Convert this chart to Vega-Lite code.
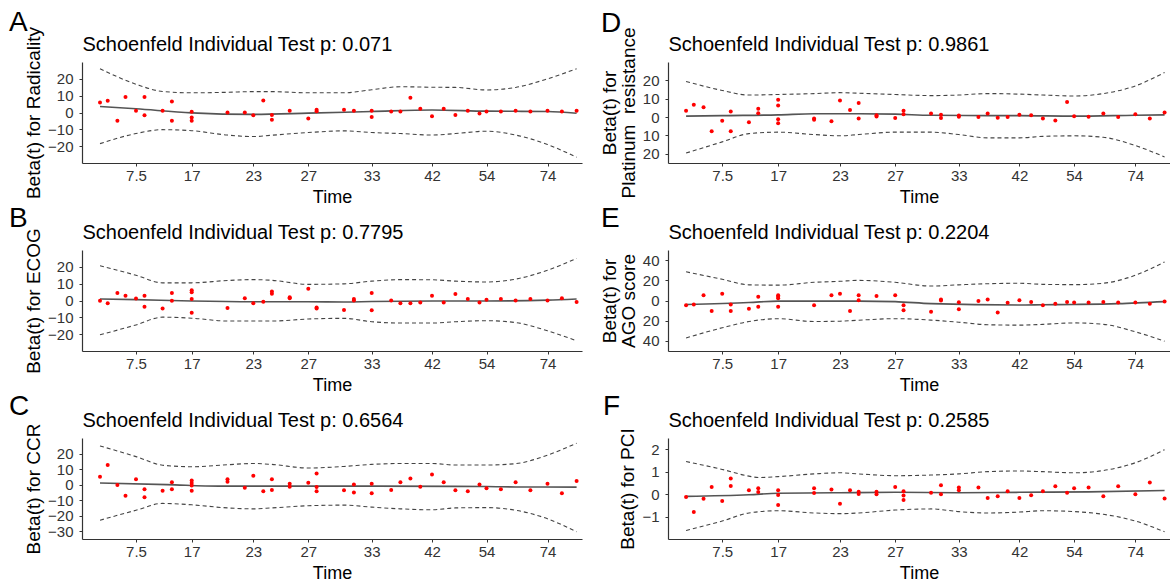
{
"$schema": "https://vega.github.io/schema/vega-lite/v6.json",
"background": "white",
"padding": {"left": 9, "top": 9, "right": 0, "bottom": 0},
"datasets": {
"pts": [
{"p":"A","t":18,"b":6.0},{"p":"A","t":25.7,"b":7.0},{"p":"A","t":35.4,"b":-4.9},{"p":"A","t":43.5,"b":9.2},{"p":"A","t":54,"b":1.1},{"p":"A","t":62.5,"b":9.2},{"p":"A","t":62.5,"b":-1.7},{"p":"A","t":80.6,"b":1.1},{"p":"A","t":89.9,"b":6.6},{"p":"A","t":89.9,"b":-4.9},{"p":"A","t":109.7,"b":0.4},{"p":"A","t":109.7,"b":-3.0},{"p":"A","t":109.7,"b":-4.9},{"p":"A","t":145.5,"b":0},{"p":"A","t":162.8,"b":0},{"p":"A","t":171.3,"b":-1.7},{"p":"A","t":181.3,"b":7.2},{"p":"A","t":189.9,"b":-1.5},{"p":"A","t":189.9,"b":-4.3},{"p":"A","t":207.7,"b":1.1},{"p":"A","t":226.3,"b":-3.6},{"p":"A","t":234.6,"b":1.7},{"p":"A","t":234.6,"b":0.8},{"p":"A","t":262,"b":1.7},{"p":"A","t":271.9,"b":1.1},{"p":"A","t":289.7,"b":1.1},{"p":"A","t":289.7,"b":-2.6},{"p":"A","t":309.2,"b":0.6},{"p":"A","t":318.4,"b":0.6},{"p":"A","t":328.4,"b":8.7},{"p":"A","t":338.3,"b":2.3},{"p":"A","t":350,"b":-2.3},{"p":"A","t":361.7,"b":2.3},{"p":"A","t":373.4,"b":-1.5},{"p":"A","t":385.8,"b":1.1},{"p":"A","t":397.5,"b":-0.6},{"p":"A","t":404.5,"b":0.6},{"p":"A","t":418.9,"b":0.6},{"p":"A","t":433.6,"b":1.1},{"p":"A","t":448.4,"b":0.6},{"p":"A","t":465.5,"b":1.1},{"p":"A","t":479.9,"b":0.6},{"p":"A","t":494.6,"b":1.1},
{"p":"B","t":18,"b":-0.2},{"p":"B","t":25.7,"b":-1.7},{"p":"B","t":35.4,"b":4.4},{"p":"B","t":43.5,"b":2.8},{"p":"B","t":54,"b":1.2},{"p":"B","t":62.5,"b":2.8},{"p":"B","t":62.5,"b":-3.7},{"p":"B","t":80.6,"b":-4.7},{"p":"B","t":89.9,"b":4.4},{"p":"B","t":89.9,"b":-0.2},{"p":"B","t":109.7,"b":6.1},{"p":"B","t":109.7,"b":4.9},{"p":"B","t":109.7,"b":0.9},{"p":"B","t":109.7,"b":-7.3},{"p":"B","t":145.5,"b":-4.4},{"p":"B","t":162.8,"b":1.4},{"p":"B","t":171.3,"b":-1.6},{"p":"B","t":181.3,"b":-0.7},{"p":"B","t":189.9,"b":5.4},{"p":"B","t":189.9,"b":4.0},{"p":"B","t":207.7,"b":1.9},{"p":"B","t":207.7,"b":1.4},{"p":"B","t":226.3,"b":7.0},{"p":"B","t":234.6,"b":-4.2},{"p":"B","t":234.6,"b":-4.7},{"p":"B","t":262,"b":-5.6},{"p":"B","t":271.9,"b":0.9},{"p":"B","t":271.9,"b":0},{"p":"B","t":289.7,"b":4.4},{"p":"B","t":289.7,"b":-5.8},{"p":"B","t":309.2,"b":0},{"p":"B","t":318.4,"b":-1.7},{"p":"B","t":328.4,"b":-1.6},{"p":"B","t":338.3,"b":-1.2},{"p":"B","t":350,"b":2.8},{"p":"B","t":361.7,"b":-1.2},{"p":"B","t":373.4,"b":3.8},{"p":"B","t":385.8,"b":0.9},{"p":"B","t":397.5,"b":-1.2},{"p":"B","t":404.5,"b":0.5},{"p":"B","t":418.9,"b":0.9},{"p":"B","t":433.6,"b":0},{"p":"B","t":448.4,"b":0.9},{"p":"B","t":465.5,"b":0},{"p":"B","t":479.9,"b":1.4},{"p":"B","t":494.6,"b":-0.9},
{"p":"C","t":18,"b":5.1},{"p":"C","t":25.7,"b":12.6},{"p":"C","t":35.4,"b":-0.2},{"p":"C","t":43.5,"b":-7.1},{"p":"C","t":54,"b":3.4},{"p":"C","t":62.5,"b":-3.0},{"p":"C","t":62.5,"b":-8.1},{"p":"C","t":80.6,"b":-4.0},{"p":"C","t":89.9,"b":1.6},{"p":"C","t":89.9,"b":-3.0},{"p":"C","t":109.7,"b":2.6},{"p":"C","t":109.7,"b":1.0},{"p":"C","t":109.7,"b":-0.6},{"p":"C","t":109.7,"b":-4.0},{"p":"C","t":145.5,"b":3.4},{"p":"C","t":145.5,"b":1.8},{"p":"C","t":162.8,"b":-2.0},{"p":"C","t":171.3,"b":5.7},{"p":"C","t":181.3,"b":-4.3},{"p":"C","t":189.9,"b":3.4},{"p":"C","t":189.9,"b":-3.4},{"p":"C","t":207.7,"b":0.6},{"p":"C","t":207.7,"b":-1.4},{"p":"C","t":226.3,"b":1.2},{"p":"C","t":234.6,"b":7.1},{"p":"C","t":234.6,"b":-1.6},{"p":"C","t":234.6,"b":-4.3},{"p":"C","t":262,"b":-3.6},{"p":"C","t":271.9,"b":0},{"p":"C","t":271.9,"b":-5.1},{"p":"C","t":289.7,"b":0.6},{"p":"C","t":289.7,"b":-5.5},{"p":"C","t":309.2,"b":-3.4},{"p":"C","t":318.4,"b":1.6},{"p":"C","t":328.4,"b":4.0},{"p":"C","t":338.3,"b":-1.4},{"p":"C","t":350,"b":6.5},{"p":"C","t":361.7,"b":1.6},{"p":"C","t":373.4,"b":-3.6},{"p":"C","t":385.8,"b":-4.3},{"p":"C","t":397.5,"b":0},{"p":"C","t":404.5,"b":-2.4},{"p":"C","t":418.9,"b":-3.0},{"p":"C","t":433.6,"b":1.6},{"p":"C","t":448.4,"b":-3.6},{"p":"C","t":465.5,"b":0.6},{"p":"C","t":479.9,"b":-5.5},{"p":"C","t":494.6,"b":2.4},
{"p":"D","t":18,"b":3.5},{"p":"D","t":25.7,"b":6.7},{"p":"D","t":35.4,"b":5.3},{"p":"D","t":43.5,"b":-7.7},{"p":"D","t":54,"b":-2.0},{"p":"D","t":62.5,"b":3.0},{"p":"D","t":62.5,"b":-7.7},{"p":"D","t":80.6,"b":-2.8},{"p":"D","t":89.9,"b":4.6},{"p":"D","t":89.9,"b":2.1},{"p":"D","t":109.7,"b":9.5},{"p":"D","t":109.7,"b":6.3},{"p":"D","t":109.7,"b":-1.2},{"p":"D","t":109.7,"b":-3.3},{"p":"D","t":145.5,"b":-0.7},{"p":"D","t":145.5,"b":-1.5},{"p":"D","t":162.8,"b":-2.3},{"p":"D","t":171.3,"b":9.0},{"p":"D","t":181.3,"b":3.8},{"p":"D","t":189.9,"b":7.7},{"p":"D","t":189.9,"b":-0.8},{"p":"D","t":207.7,"b":1.0},{"p":"D","t":207.7,"b":0.3},{"p":"D","t":226.3,"b":-0.5},{"p":"D","t":234.6,"b":3.5},{"p":"D","t":234.6,"b":1.6},{"p":"D","t":262,"b":2.0},{"p":"D","t":271.9,"b":1.3},{"p":"D","t":271.9,"b":-0.5},{"p":"D","t":289.7,"b":0.8},{"p":"D","t":289.7,"b":0.2},{"p":"D","t":309.2,"b":0},{"p":"D","t":318.4,"b":2.0},{"p":"D","t":328.4,"b":-0.3},{"p":"D","t":338.3,"b":0},{"p":"D","t":350,"b":1.3},{"p":"D","t":361.7,"b":1.0},{"p":"D","t":373.4,"b":-0.8},{"p":"D","t":385.8,"b":-1.8},{"p":"D","t":397.5,"b":8.2},{"p":"D","t":404.5,"b":0.5},{"p":"D","t":418.9,"b":0.2},{"p":"D","t":433.6,"b":2.0},{"p":"D","t":448.4,"b":0},{"p":"D","t":465.5,"b":1.6},{"p":"D","t":479.9,"b":-0.8},{"p":"D","t":494.6,"b":2.5},
{"p":"E","t":18,"b":-4.8},{"p":"E","t":25.7,"b":-3.9},{"p":"E","t":35.4,"b":5.1},{"p":"E","t":43.5,"b":-10.4},{"p":"E","t":54,"b":6.7},{"p":"E","t":62.5,"b":-3.9},{"p":"E","t":62.5,"b":-10.4},{"p":"E","t":80.6,"b":-8.1},{"p":"E","t":89.9,"b":3.7},{"p":"E","t":89.9,"b":-6.2},{"p":"E","t":109.7,"b":5.1},{"p":"E","t":109.7,"b":3.7},{"p":"E","t":109.7,"b":2.2},{"p":"E","t":109.7,"b":-6.2},{"p":"E","t":145.5,"b":-4.8},{"p":"E","t":162.8,"b":5.3},{"p":"E","t":171.3,"b":6.7},{"p":"E","t":181.3,"b":-10.4},{"p":"E","t":189.9,"b":5.3},{"p":"E","t":189.9,"b":0.3},{"p":"E","t":207.7,"b":4.5},{"p":"E","t":226.3,"b":5.1},{"p":"E","t":234.6,"b":-4.8},{"p":"E","t":234.6,"b":-9.6},{"p":"E","t":262,"b":-11.2},{"p":"E","t":271.9,"b":1.1},{"p":"E","t":271.9,"b":0},{"p":"E","t":289.7,"b":-1.7},{"p":"E","t":289.7,"b":-8.7},{"p":"E","t":309.2,"b":-0.6},{"p":"E","t":318.4,"b":1.1},{"p":"E","t":328.4,"b":-11.8},{"p":"E","t":338.3,"b":-2.2},{"p":"E","t":350,"b":0.3},{"p":"E","t":361.7,"b":-1.4},{"p":"E","t":373.4,"b":-4.8},{"p":"E","t":385.8,"b":-3.1},{"p":"E","t":397.5,"b":-1.4},{"p":"E","t":404.5,"b":-2.0},{"p":"E","t":418.9,"b":-2.0},{"p":"E","t":433.6,"b":-1.4},{"p":"E","t":448.4,"b":-2.0},{"p":"E","t":465.5,"b":-2.0},{"p":"E","t":479.9,"b":-3.1},{"p":"E","t":494.6,"b":-1.1},
{"p":"F","t":18,"b":-0.13},{"p":"F","t":25.7,"b":-0.80},{"p":"F","t":35.4,"b":-0.21},{"p":"F","t":43.5,"b":0.32},{"p":"F","t":54,"b":-0.31},{"p":"F","t":62.5,"b":0.70},{"p":"F","t":62.5,"b":0.36},{"p":"F","t":80.6,"b":0.17},{"p":"F","t":89.9,"b":0.26},{"p":"F","t":89.9,"b":0.09},{"p":"F","t":109.7,"b":0.17},{"p":"F","t":109.7,"b":-0.04},{"p":"F","t":109.7,"b":-0.48},{"p":"F","t":145.5,"b":0.26},{"p":"F","t":145.5,"b":0.05},{"p":"F","t":162.8,"b":0.21},{"p":"F","t":171.3,"b":-0.43},{"p":"F","t":181.3,"b":0.17},{"p":"F","t":189.9,"b":0.10},{"p":"F","t":189.9,"b":0},{"p":"F","t":207.7,"b":0.10},{"p":"F","t":207.7,"b":-0.01},{"p":"F","t":226.3,"b":0.32},{"p":"F","t":234.6,"b":0.13},{"p":"F","t":234.6,"b":-0.06},{"p":"F","t":234.6,"b":-0.26},{"p":"F","t":262,"b":0.06},{"p":"F","t":271.9,"b":0.40},{"p":"F","t":271.9,"b":-0.01},{"p":"F","t":289.7,"b":0.30},{"p":"F","t":289.7,"b":0.17},{"p":"F","t":309.2,"b":0.30},{"p":"F","t":318.4,"b":-0.17},{"p":"F","t":328.4,"b":-0.09},{"p":"F","t":338.3,"b":0.13},{"p":"F","t":350,"b":-0.17},{"p":"F","t":361.7,"b":-0.05},{"p":"F","t":373.4,"b":0.13},{"p":"F","t":385.8,"b":0.35},{"p":"F","t":397.5,"b":0.06},{"p":"F","t":404.5,"b":0.26},{"p":"F","t":418.9,"b":0.30},{"p":"F","t":433.6,"b":-0.09},{"p":"F","t":448.4,"b":0.35},{"p":"F","t":465.5,"b":-0.01},{"p":"F","t":479.9,"b":0.52},{"p":"F","t":494.6,"b":-0.19}
],
"crv": [
{"p":"A","k":"hi","t":18,"v":26.0},{"p":"A","k":"hi","t":54,"v":16.8},{"p":"A","k":"hi","t":80.6,"v":12.5},{"p":"A","k":"hi","t":109.7,"v":11.7},{"p":"A","k":"hi","t":145.5,"v":12.0},{"p":"A","k":"hi","t":171.3,"v":12.4},{"p":"A","k":"hi","t":189.9,"v":12.4},{"p":"A","k":"hi","t":226.3,"v":11.7},{"p":"A","k":"hi","t":262,"v":11.7},{"p":"A","k":"hi","t":289.7,"v":13.5},{"p":"A","k":"hi","t":318.4,"v":15.3},{"p":"A","k":"hi","t":350,"v":15.0},{"p":"A","k":"hi","t":373.4,"v":14.9},{"p":"A","k":"hi","t":404.5,"v":13.4},{"p":"A","k":"hi","t":433.6,"v":14.9},{"p":"A","k":"hi","t":465.5,"v":20.0},{"p":"A","k":"hi","t":494.6,"v":26.0},
{"p":"A","k":"lo","t":18,"v":-18.5},{"p":"A","k":"lo","t":54,"v":-12.5},{"p":"A","k":"lo","t":80.6,"v":-10.2},{"p":"A","k":"lo","t":109.7,"v":-10.8},{"p":"A","k":"lo","t":145.5,"v":-13.4},{"p":"A","k":"lo","t":171.3,"v":-14.3},{"p":"A","k":"lo","t":189.9,"v":-13.5},{"p":"A","k":"lo","t":226.3,"v":-11.9},{"p":"A","k":"lo","t":262,"v":-10.9},{"p":"A","k":"lo","t":289.7,"v":-11.9},{"p":"A","k":"lo","t":318.4,"v":-12.5},{"p":"A","k":"lo","t":350,"v":-13.4},{"p":"A","k":"lo","t":373.4,"v":-12.5},{"p":"A","k":"lo","t":404.5,"v":-11.1},{"p":"A","k":"lo","t":433.6,"v":-13.4},{"p":"A","k":"lo","t":465.5,"v":-19.0},{"p":"A","k":"lo","t":494.6,"v":-26.6},
{"p":"A","k":"fit","t":18,"v":3.6},{"p":"A","k":"fit","t":54,"v":2.2},{"p":"A","k":"fit","t":109.7,"v":-0.2},{"p":"A","k":"fit","t":171.3,"v":-1.1},{"p":"A","k":"fit","t":226.3,"v":-0.4},{"p":"A","k":"fit","t":289.7,"v":0.6},{"p":"A","k":"fit","t":350,"v":1.5},{"p":"A","k":"fit","t":404.5,"v":0.8},{"p":"A","k":"fit","t":465.5,"v":0.6},{"p":"A","k":"fit","t":494.6,"v":-0.4},
{"p":"B","k":"hi","t":18,"v":20.6},{"p":"B","k":"hi","t":54,"v":15.0},{"p":"B","k":"hi","t":80.6,"v":10.5},{"p":"B","k":"hi","t":109.7,"v":10.5},{"p":"B","k":"hi","t":145.5,"v":11.9},{"p":"B","k":"hi","t":171.3,"v":12.4},{"p":"B","k":"hi","t":189.9,"v":12.0},{"p":"B","k":"hi","t":226.3,"v":9.6},{"p":"B","k":"hi","t":262,"v":9.9},{"p":"B","k":"hi","t":289.7,"v":11.5},{"p":"B","k":"hi","t":318.4,"v":12.4},{"p":"B","k":"hi","t":350,"v":12.3},{"p":"B","k":"hi","t":373.4,"v":11.5},{"p":"B","k":"hi","t":404.5,"v":11.0},{"p":"B","k":"hi","t":433.6,"v":12.7},{"p":"B","k":"hi","t":465.5,"v":18.0},{"p":"B","k":"hi","t":494.6,"v":25.0},
{"p":"B","k":"lo","t":18,"v":-20.4},{"p":"B","k":"lo","t":54,"v":-14.5},{"p":"B","k":"lo","t":80.6,"v":-9.9},{"p":"B","k":"lo","t":109.7,"v":-10.5},{"p":"B","k":"lo","t":145.5,"v":-12.2},{"p":"B","k":"lo","t":171.3,"v":-12.2},{"p":"B","k":"lo","t":189.9,"v":-12.2},{"p":"B","k":"lo","t":226.3,"v":-11.0},{"p":"B","k":"lo","t":262,"v":-10.6},{"p":"B","k":"lo","t":289.7,"v":-12.6},{"p":"B","k":"lo","t":318.4,"v":-13.4},{"p":"B","k":"lo","t":350,"v":-13.4},{"p":"B","k":"lo","t":373.4,"v":-12.6},{"p":"B","k":"lo","t":404.5,"v":-12.0},{"p":"B","k":"lo","t":433.6,"v":-13.1},{"p":"B","k":"lo","t":465.5,"v":-18.0},{"p":"B","k":"lo","t":494.6,"v":-23.9},
{"p":"B","k":"fit","t":18,"v":0.9},{"p":"B","k":"fit","t":54,"v":0.5},{"p":"B","k":"fit","t":109.7,"v":-0.3},{"p":"B","k":"fit","t":171.3,"v":-0.7},{"p":"B","k":"fit","t":226.3,"v":-0.7},{"p":"B","k":"fit","t":262,"v":-0.9},{"p":"B","k":"fit","t":289.7,"v":-0.6},{"p":"B","k":"fit","t":350,"v":-0.3},{"p":"B","k":"fit","t":404.5,"v":-0.3},{"p":"B","k":"fit","t":465.5,"v":0.2},{"p":"B","k":"fit","t":494.6,"v":0.9},
{"p":"C","k":"hi","t":18,"v":24.9},{"p":"C","k":"hi","t":54,"v":18.0},{"p":"C","k":"hi","t":80.6,"v":12.5},{"p":"C","k":"hi","t":109.7,"v":11.5},{"p":"C","k":"hi","t":145.5,"v":12.8},{"p":"C","k":"hi","t":171.3,"v":13.6},{"p":"C","k":"hi","t":189.9,"v":13.0},{"p":"C","k":"hi","t":226.3,"v":10.7},{"p":"C","k":"hi","t":262,"v":11.7},{"p":"C","k":"hi","t":289.7,"v":13.0},{"p":"C","k":"hi","t":318.4,"v":13.6},{"p":"C","k":"hi","t":350,"v":13.6},{"p":"C","k":"hi","t":373.4,"v":12.6},{"p":"C","k":"hi","t":404.5,"v":12.6},{"p":"C","k":"hi","t":433.6,"v":13.5},{"p":"C","k":"hi","t":465.5,"v":19.0},{"p":"C","k":"hi","t":494.6,"v":26.7},
{"p":"C","k":"lo","t":18,"v":-22.9},{"p":"C","k":"lo","t":54,"v":-16.5},{"p":"C","k":"lo","t":80.6,"v":-12.1},{"p":"C","k":"lo","t":109.7,"v":-13.0},{"p":"C","k":"lo","t":145.5,"v":-15.0},{"p":"C","k":"lo","t":171.3,"v":-15.6},{"p":"C","k":"lo","t":189.9,"v":-15.0},{"p":"C","k":"lo","t":226.3,"v":-13.6},{"p":"C","k":"lo","t":262,"v":-13.2},{"p":"C","k":"lo","t":289.7,"v":-14.5},{"p":"C","k":"lo","t":318.4,"v":-15.6},{"p":"C","k":"lo","t":350,"v":-16.2},{"p":"C","k":"lo","t":373.4,"v":-15.0},{"p":"C","k":"lo","t":404.5,"v":-14.8},{"p":"C","k":"lo","t":433.6,"v":-16.5},{"p":"C","k":"lo","t":465.5,"v":-22.0},{"p":"C","k":"lo","t":494.6,"v":-30.4},
{"p":"C","k":"fit","t":18,"v":1.0},{"p":"C","k":"fit","t":85,"v":0},{"p":"C","k":"fit","t":137,"v":-1.0},{"p":"C","k":"fit","t":294,"v":-1.0},{"p":"C","k":"fit","t":404.5,"v":-1.2},{"p":"C","k":"fit","t":433.6,"v":-1.5},{"p":"C","k":"fit","t":494.6,"v":-1.6},
{"p":"D","k":"hi","t":18,"v":19.4},{"p":"D","k":"hi","t":54,"v":14.5},{"p":"D","k":"hi","t":80.6,"v":12.0},{"p":"D","k":"hi","t":109.7,"v":12.3},{"p":"D","k":"hi","t":145.5,"v":12.8},{"p":"D","k":"hi","t":171.3,"v":13.3},{"p":"D","k":"hi","t":189.9,"v":13.0},{"p":"D","k":"hi","t":226.3,"v":12.3},{"p":"D","k":"hi","t":262,"v":11.7},{"p":"D","k":"hi","t":289.7,"v":12.0},{"p":"D","k":"hi","t":318.4,"v":12.8},{"p":"D","k":"hi","t":350,"v":12.5},{"p":"D","k":"hi","t":373.4,"v":12.0},{"p":"D","k":"hi","t":404.5,"v":11.5},{"p":"D","k":"hi","t":433.6,"v":12.8},{"p":"D","k":"hi","t":465.5,"v":17.0},{"p":"D","k":"hi","t":494.6,"v":24.3},
{"p":"D","k":"lo","t":18,"v":-19.6},{"p":"D","k":"lo","t":54,"v":-13.5},{"p":"D","k":"lo","t":80.6,"v":-9.0},{"p":"D","k":"lo","t":109.7,"v":-8.2},{"p":"D","k":"lo","t":145.5,"v":-9.5},{"p":"D","k":"lo","t":171.3,"v":-10.2},{"p":"D","k":"lo","t":189.9,"v":-9.5},{"p":"D","k":"lo","t":226.3,"v":-8.2},{"p":"D","k":"lo","t":262,"v":-8.2},{"p":"D","k":"lo","t":289.7,"v":-9.5},{"p":"D","k":"lo","t":318.4,"v":-11.3},{"p":"D","k":"lo","t":350,"v":-11.3},{"p":"D","k":"lo","t":373.4,"v":-10.5},{"p":"D","k":"lo","t":404.5,"v":-10.2},{"p":"D","k":"lo","t":433.6,"v":-11.0},{"p":"D","k":"lo","t":465.5,"v":-15.5},{"p":"D","k":"lo","t":494.6,"v":-21.7},
{"p":"D","k":"fit","t":18,"v":0.5},{"p":"D","k":"fit","t":54,"v":0.8},{"p":"D","k":"fit","t":109.7,"v":1.2},{"p":"D","k":"fit","t":145.5,"v":1.8},{"p":"D","k":"fit","t":189.9,"v":1.8},{"p":"D","k":"fit","t":226.3,"v":1.6},{"p":"D","k":"fit","t":262,"v":1.0},{"p":"D","k":"fit","t":318.4,"v":0.8},{"p":"D","k":"fit","t":350,"v":0.8},{"p":"D","k":"fit","t":404.5,"v":0.5},{"p":"D","k":"fit","t":465.5,"v":1.0},{"p":"D","k":"fit","t":494.6,"v":1.2},
{"p":"E","k":"hi","t":18,"v":28.4},{"p":"E","k":"hi","t":54,"v":21.0},{"p":"E","k":"hi","t":80.6,"v":15.5},{"p":"E","k":"hi","t":109.7,"v":15.2},{"p":"E","k":"hi","t":145.5,"v":18.0},{"p":"E","k":"hi","t":171.3,"v":19.0},{"p":"E","k":"hi","t":189.9,"v":19.9},{"p":"E","k":"hi","t":226.3,"v":18.0},{"p":"E","k":"hi","t":262,"v":14.3},{"p":"E","k":"hi","t":289.7,"v":15.5},{"p":"E","k":"hi","t":318.4,"v":16.6},{"p":"E","k":"hi","t":350,"v":17.1},{"p":"E","k":"hi","t":373.4,"v":16.0},{"p":"E","k":"hi","t":404.5,"v":15.7},{"p":"E","k":"hi","t":433.6,"v":17.1},{"p":"E","k":"hi","t":465.5,"v":25.0},{"p":"E","k":"hi","t":494.6,"v":38.2},
{"p":"E","k":"lo","t":18,"v":-37.1},{"p":"E","k":"lo","t":54,"v":-27.0},{"p":"E","k":"lo","t":80.6,"v":-20.8},{"p":"E","k":"lo","t":109.7,"v":-18.0},{"p":"E","k":"lo","t":145.5,"v":-20.8},{"p":"E","k":"lo","t":171.3,"v":-20.5},{"p":"E","k":"lo","t":189.9,"v":-19.5},{"p":"E","k":"lo","t":226.3,"v":-18.0},{"p":"E","k":"lo","t":262,"v":-19.4},{"p":"E","k":"lo","t":289.7,"v":-21.5},{"p":"E","k":"lo","t":318.4,"v":-24.0},{"p":"E","k":"lo","t":350,"v":-24.4},{"p":"E","k":"lo","t":373.4,"v":-23.6},{"p":"E","k":"lo","t":404.5,"v":-22.2},{"p":"E","k":"lo","t":433.6,"v":-23.6},{"p":"E","k":"lo","t":465.5,"v":-31.0},{"p":"E","k":"lo","t":494.6,"v":-40.4},
{"p":"E","k":"fit","t":18,"v":-3.9},{"p":"E","k":"fit","t":80.6,"v":-2.0},{"p":"E","k":"fit","t":109.7,"v":-0.6},{"p":"E","k":"fit","t":189.9,"v":-0.6},{"p":"E","k":"fit","t":226.3,"v":-1.1},{"p":"E","k":"fit","t":262,"v":-3.1},{"p":"E","k":"fit","t":350,"v":-4.5},{"p":"E","k":"fit","t":373.4,"v":-4.2},{"p":"E","k":"fit","t":404.5,"v":-3.9},{"p":"E","k":"fit","t":448.4,"v":-3.1},{"p":"E","k":"fit","t":494.6,"v":-1.1},
{"p":"F","k":"hi","t":18,"v":1.45},{"p":"F","k":"hi","t":54,"v":1.1},{"p":"F","k":"hi","t":80.6,"v":0.8},{"p":"F","k":"hi","t":89.9,"v":0.74},{"p":"F","k":"hi","t":109.7,"v":0.78},{"p":"F","k":"hi","t":145.5,"v":0.9},{"p":"F","k":"hi","t":171.3,"v":0.95},{"p":"F","k":"hi","t":189.9,"v":0.9},{"p":"F","k":"hi","t":226.3,"v":0.82},{"p":"F","k":"hi","t":262,"v":0.85},{"p":"F","k":"hi","t":289.7,"v":0.9},{"p":"F","k":"hi","t":318.4,"v":1.0},{"p":"F","k":"hi","t":350,"v":1.03},{"p":"F","k":"hi","t":373.4,"v":1.0},{"p":"F","k":"hi","t":404.5,"v":0.95},{"p":"F","k":"hi","t":433.6,"v":1.05},{"p":"F","k":"hi","t":465.5,"v":1.4},{"p":"F","k":"hi","t":494.6,"v":1.98},
{"p":"F","k":"lo","t":18,"v":-1.62},{"p":"F","k":"lo","t":54,"v":-1.2},{"p":"F","k":"lo","t":80.6,"v":-0.84},{"p":"F","k":"lo","t":109.7,"v":-0.74},{"p":"F","k":"lo","t":145.5,"v":-0.84},{"p":"F","k":"lo","t":171.3,"v":-0.87},{"p":"F","k":"lo","t":189.9,"v":-0.84},{"p":"F","k":"lo","t":226.3,"v":-0.71},{"p":"F","k":"lo","t":262,"v":-0.66},{"p":"F","k":"lo","t":289.7,"v":-0.78},{"p":"F","k":"lo","t":318.4,"v":-0.84},{"p":"F","k":"lo","t":350,"v":-0.8},{"p":"F","k":"lo","t":373.4,"v":-0.74},{"p":"F","k":"lo","t":404.5,"v":-0.78},{"p":"F","k":"lo","t":433.6,"v":-0.9},{"p":"F","k":"lo","t":465.5,"v":-1.2},{"p":"F","k":"lo","t":494.6,"v":-1.68},
{"p":"F","k":"fit","t":18,"v":-0.10},{"p":"F","k":"fit","t":80.6,"v":-0.03},{"p":"F","k":"fit","t":109.7,"v":0.04},{"p":"F","k":"fit","t":171.3,"v":0.06},{"p":"F","k":"fit","t":226.3,"v":0.08},{"p":"F","k":"fit","t":289.7,"v":0.06},{"p":"F","k":"fit","t":350,"v":0.08},{"p":"F","k":"fit","t":418.9,"v":0.10},{"p":"F","k":"fit","t":494.6,"v":0.16}
]
},
"hconcat": [
{"vconcat": [
{"width": 500, "height": 101, "title": {"text": "A", "dx": -73},
 "layer": [
  {"data": {"name": "crv"}, "transform": [{"filter": "datum.p=='A' && datum.k!='fit'"}],
   "mark": {"type": "line", "color": "#444", "strokeWidth": 1.1, "strokeDash": [4, 3], "interpolate": "monotone"},
   "encoding": {"x": {"field": "t", "type": "quantitative", "scale": {"domain": [0, 500]}, "axis": null},
    "y": {"field": "v", "type": "quantitative", "scale": {"domain": [-29.2, 28.4]}, "axis": null}, "detail": {"field": "k"}}},
  {"data": {"name": "crv"}, "transform": [{"filter": "datum.p=='A' && datum.k=='fit'"}],
   "mark": {"type": "line", "color": "#555", "strokeWidth": 1.6, "interpolate": "monotone"},
   "encoding": {"x": {"field": "t", "type": "quantitative", "axis": {"orient": "top", "domain": false, "ticks": false, "labels": false, "title": "Schoenfeld Individual Test p: 0.071"}},
    "y": {"field": "v", "type": "quantitative", "axis": null}}},
  {"data": {"name": "pts"}, "transform": [{"filter": "datum.p=='A'"}],
   "mark": {"type": "circle", "color": "#FF0000", "size": 16, "opacity": 1},
   "encoding": {"x": {"field": "t", "type": "quantitative", "axis": {"orient": "bottom", "title": "Time", "values": [54, 109.7, 171.3, 226.3, 289.7, 350, 404.5, 465.5], "labelExpr": "datum.value < 80 ? '7.5' : datum.value < 140 ? '17' : datum.value < 200 ? '23' : datum.value < 260 ? '27' : datum.value < 320 ? '33' : datum.value < 380 ? '42' : datum.value < 440 ? '54' : '74'"}},
    "y": {"field": "b", "type": "quantitative", "axis": {"orient": "left", "title": "Beta(t) for Radicality", "values": [-20, -10, 0, 10, 20]}}}}
 ],
 "resolve": {"axis": {"x": "independent", "y": "independent"}}},
{"width": 500, "height": 101, "title": {"text": "B", "dx": -73},
 "layer": [
  {"data": {"name": "crv"}, "transform": [{"filter": "datum.p=='B' && datum.k!='fit'"}],
   "mark": {"type": "line", "color": "#444", "strokeWidth": 1.1, "strokeDash": [4, 3], "interpolate": "monotone"},
   "encoding": {"x": {"field": "t", "type": "quantitative", "scale": {"domain": [0, 500]}, "axis": null},
    "y": {"field": "v", "type": "quantitative", "scale": {"domain": [-26.4, 27.2]}, "axis": null}, "detail": {"field": "k"}}},
  {"data": {"name": "crv"}, "transform": [{"filter": "datum.p=='B' && datum.k=='fit'"}],
   "mark": {"type": "line", "color": "#555", "strokeWidth": 1.6, "interpolate": "monotone"},
   "encoding": {"x": {"field": "t", "type": "quantitative", "axis": {"orient": "top", "domain": false, "ticks": false, "labels": false, "title": "Schoenfeld Individual Test p: 0.7795"}},
    "y": {"field": "v", "type": "quantitative", "axis": null}}},
  {"data": {"name": "pts"}, "transform": [{"filter": "datum.p=='B'"}],
   "mark": {"type": "circle", "color": "#FF0000", "size": 16, "opacity": 1},
   "encoding": {"x": {"field": "t", "type": "quantitative", "axis": {"orient": "bottom", "title": "Time", "values": [54, 109.7, 171.3, 226.3, 289.7, 350, 404.5, 465.5], "labelExpr": "datum.value < 80 ? '7.5' : datum.value < 140 ? '17' : datum.value < 200 ? '23' : datum.value < 260 ? '27' : datum.value < 320 ? '33' : datum.value < 380 ? '42' : datum.value < 440 ? '54' : '74'"}},
    "y": {"field": "b", "type": "quantitative", "axis": {"orient": "left", "title": "Beta(t) for ECOG", "values": [-20, -10, 0, 10, 20]}}}}
 ],
 "resolve": {"axis": {"x": "independent", "y": "independent"}}},
{"width": 500, "height": 101, "title": {"text": "C", "dx": -73},
 "layer": [
  {"data": {"name": "crv"}, "transform": [{"filter": "datum.p=='C' && datum.k!='fit'"}],
   "mark": {"type": "line", "color": "#444", "strokeWidth": 1.1, "strokeDash": [4, 3], "interpolate": "monotone"},
   "encoding": {"x": {"field": "t", "type": "quantitative", "scale": {"domain": [0, 500]}, "axis": null},
    "y": {"field": "v", "type": "quantitative", "scale": {"domain": [-33.0, 29.5]}, "axis": null}, "detail": {"field": "k"}}},
  {"data": {"name": "crv"}, "transform": [{"filter": "datum.p=='C' && datum.k=='fit'"}],
   "mark": {"type": "line", "color": "#555", "strokeWidth": 1.6, "interpolate": "monotone"},
   "encoding": {"x": {"field": "t", "type": "quantitative", "axis": {"orient": "top", "domain": false, "ticks": false, "labels": false, "title": "Schoenfeld Individual Test p: 0.6564"}},
    "y": {"field": "v", "type": "quantitative", "axis": null}}},
  {"data": {"name": "pts"}, "transform": [{"filter": "datum.p=='C'"}],
   "mark": {"type": "circle", "color": "#FF0000", "size": 16, "opacity": 1},
   "encoding": {"x": {"field": "t", "type": "quantitative", "axis": {"orient": "bottom", "title": "Time", "values": [54, 109.7, 171.3, 226.3, 289.7, 350, 404.5, 465.5], "labelExpr": "datum.value < 80 ? '7.5' : datum.value < 140 ? '17' : datum.value < 200 ? '23' : datum.value < 260 ? '27' : datum.value < 320 ? '33' : datum.value < 380 ? '42' : datum.value < 440 ? '54' : '74'"}},
    "y": {"field": "b", "type": "quantitative", "axis": {"orient": "left", "title": "Beta(t) for CCR", "values": [-30, -20, -10, 0, 10, 20]}}}}
 ],
 "resolve": {"axis": {"x": "independent", "y": "independent"}}}
], "bounds": "flush", "spacing": 87},
{"vconcat": [
{"width": 502, "height": 101, "title": {"text": "D", "dx": -67},
 "layer": [
  {"data": {"name": "crv"}, "transform": [{"filter": "datum.p=='D' && datum.k!='fit'"}],
   "mark": {"type": "line", "color": "#444", "strokeWidth": 1.1, "strokeDash": [4, 3], "interpolate": "monotone"},
   "encoding": {"x": {"field": "t", "type": "quantitative", "scale": {"domain": [0, 500]}, "axis": null},
    "y": {"field": "v", "type": "quantitative", "scale": {"domain": [-24.0, 26.3]}, "axis": null}, "detail": {"field": "k"}}},
  {"data": {"name": "crv"}, "transform": [{"filter": "datum.p=='D' && datum.k=='fit'"}],
   "mark": {"type": "line", "color": "#555", "strokeWidth": 1.6, "interpolate": "monotone"},
   "encoding": {"x": {"field": "t", "type": "quantitative", "axis": {"orient": "top", "domain": false, "ticks": false, "labels": false, "title": "Schoenfeld Individual Test p: 0.9861"}},
    "y": {"field": "v", "type": "quantitative", "axis": null}}},
  {"data": {"name": "pts"}, "transform": [{"filter": "datum.p=='D'"}],
   "mark": {"type": "circle", "color": "#FF0000", "size": 16, "opacity": 1},
   "encoding": {"x": {"field": "t", "type": "quantitative", "axis": {"orient": "bottom", "title": "Time", "values": [54, 109.7, 171.3, 226.3, 289.7, 350, 404.5, 465.5], "labelExpr": "datum.value < 80 ? '7.5' : datum.value < 140 ? '17' : datum.value < 200 ? '23' : datum.value < 260 ? '27' : datum.value < 320 ? '33' : datum.value < 380 ? '42' : datum.value < 440 ? '54' : '74'"}},
    "y": {"field": "b", "type": "quantitative", "axis": {"orient": "left", "title": ["Beta(t) for", "Platinum\u00a0\u00a0resistance"], "values": [-20, -10, 0, 10, 20], "labelExpr": "format(abs(datum.value), 'd')", "titleLineHeight": 19}}}}
 ],
 "resolve": {"axis": {"x": "independent", "y": "independent"}}},
{"width": 502, "height": 101, "title": {"text": "E", "dx": -67},
 "layer": [
  {"data": {"name": "crv"}, "transform": [{"filter": "datum.p=='E' && datum.k!='fit'"}],
   "mark": {"type": "line", "color": "#444", "strokeWidth": 1.1, "strokeDash": [4, 3], "interpolate": "monotone"},
   "encoding": {"x": {"field": "t", "type": "quantitative", "scale": {"domain": [0, 500]}, "axis": null},
    "y": {"field": "v", "type": "quantitative", "scale": {"domain": [-44.0, 41.0]}, "axis": null}, "detail": {"field": "k"}}},
  {"data": {"name": "crv"}, "transform": [{"filter": "datum.p=='E' && datum.k=='fit'"}],
   "mark": {"type": "line", "color": "#555", "strokeWidth": 1.6, "interpolate": "monotone"},
   "encoding": {"x": {"field": "t", "type": "quantitative", "axis": {"orient": "top", "domain": false, "ticks": false, "labels": false, "title": "Schoenfeld Individual Test p: 0.2204"}},
    "y": {"field": "v", "type": "quantitative", "axis": null}}},
  {"data": {"name": "pts"}, "transform": [{"filter": "datum.p=='E'"}],
   "mark": {"type": "circle", "color": "#FF0000", "size": 16, "opacity": 1},
   "encoding": {"x": {"field": "t", "type": "quantitative", "axis": {"orient": "bottom", "title": "Time", "values": [54, 109.7, 171.3, 226.3, 289.7, 350, 404.5, 465.5], "labelExpr": "datum.value < 80 ? '7.5' : datum.value < 140 ? '17' : datum.value < 200 ? '23' : datum.value < 260 ? '27' : datum.value < 320 ? '33' : datum.value < 380 ? '42' : datum.value < 440 ? '54' : '74'"}},
    "y": {"field": "b", "type": "quantitative", "axis": {"orient": "left", "title": ["Beta(t) for", "AGO score"], "values": [-40, -20, 0, 20, 40], "labelExpr": "format(abs(datum.value), 'd')", "titleLineHeight": 19}}}}
 ],
 "resolve": {"axis": {"x": "independent", "y": "independent"}}},
{"width": 502, "height": 101, "title": {"text": "F", "dx": -65},
 "layer": [
  {"data": {"name": "crv"}, "transform": [{"filter": "datum.p=='F' && datum.k!='fit'"}],
   "mark": {"type": "line", "color": "#444", "strokeWidth": 1.1, "strokeDash": [4, 3], "interpolate": "monotone"},
   "encoding": {"x": {"field": "t", "type": "quantitative", "scale": {"domain": [0, 500]}, "axis": null},
    "y": {"field": "v", "type": "quantitative", "scale": {"domain": [-1.83, 2.14]}, "axis": null}, "detail": {"field": "k"}}},
  {"data": {"name": "crv"}, "transform": [{"filter": "datum.p=='F' && datum.k=='fit'"}],
   "mark": {"type": "line", "color": "#555", "strokeWidth": 1.6, "interpolate": "monotone"},
   "encoding": {"x": {"field": "t", "type": "quantitative", "axis": {"orient": "top", "domain": false, "ticks": false, "labels": false, "title": "Schoenfeld Individual Test p: 0.2585"}},
    "y": {"field": "v", "type": "quantitative", "axis": null}}},
  {"data": {"name": "pts"}, "transform": [{"filter": "datum.p=='F'"}],
   "mark": {"type": "circle", "color": "#FF0000", "size": 16, "opacity": 1},
   "encoding": {"x": {"field": "t", "type": "quantitative", "axis": {"orient": "bottom", "title": "Time", "values": [54, 109.7, 171.3, 226.3, 289.7, 350, 404.5, 465.5], "labelExpr": "datum.value < 80 ? '7.5' : datum.value < 140 ? '17' : datum.value < 200 ? '23' : datum.value < 260 ? '27' : datum.value < 320 ? '33' : datum.value < 380 ? '42' : datum.value < 440 ? '54' : '74'"}},
    "y": {"field": "b", "type": "quantitative", "axis": {"orient": "left", "title": "Beta(t) for PCI", "values": [-1, 0, 1, 2]}}}}
 ],
 "resolve": {"axis": {"x": "independent", "y": "independent"}}}
], "bounds": "flush", "spacing": 87}
],
"spacing": 18,
"config": {
 "font": "Liberation Sans",
 "view": {"stroke": null},
 "title": {"fontSize": 28, "fontWeight": "normal", "anchor": "start", "frame": "group", "baseline": "alphabetic", "offset": -11, "color": "#000000"},
 "axis": {"grid": false, "domainColor": "#333333", "domainWidth": 1.2, "tickColor": "#333333", "tickSize": 3, "labelColor": "#333333", "labelFontSize": 15, "titleFontWeight": "normal", "titleColor": "#000000", "labelPadding": 3},
 "axisBottom": {"titleFontSize": 18, "titlePadding": 5, "labelPadding": 2},
 "axisLeft": {"titleFontSize": 19, "titlePadding": 4, "labelPadding": 6},
 "axisTop": {"titleFontSize": 20, "titleAnchor": "start", "titleBaseline": "alphabetic", "titlePadding": 12, "titleColor": "#000000"}
}
}
